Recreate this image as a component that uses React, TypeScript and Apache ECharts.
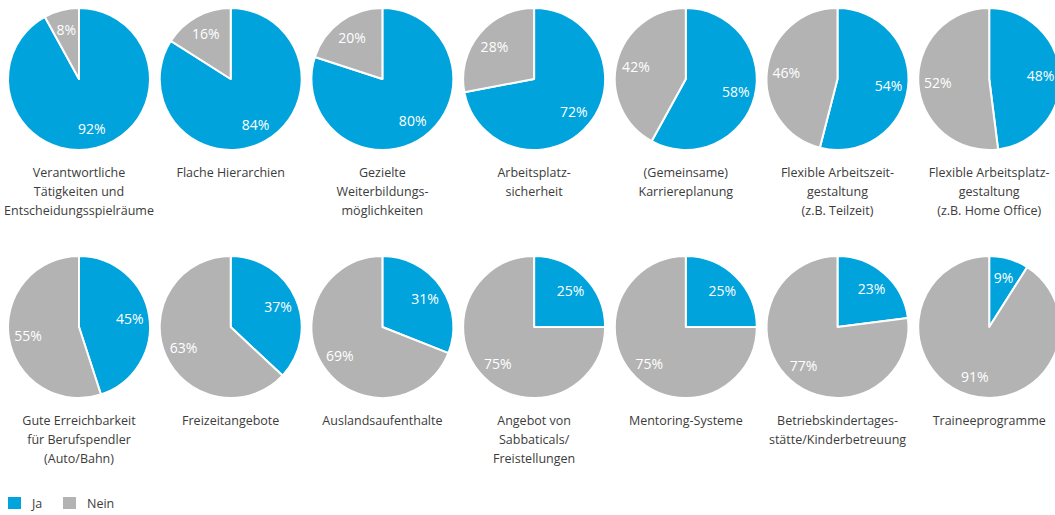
import React, { useEffect, useRef } from "react";
import * as echarts from "echarts";

const categories: string[] = [
  "Verantwortliche\nTätigkeiten und\nEntscheidungsspielräume",
  "Flache Hierarchien",
  "Gezielte\nWeiterbildungs-\nmöglichkeiten",
  "Arbeitsplatz-\nsicherheit",
  "(Gemeinsame)\nKarriereplanung",
  "Flexible Arbeitszeit-\ngestaltung\n(z.B. Teilzeit)",
  "Flexible Arbeitsplatz-\ngestaltung\n(z.B. Home Office)",
  "Gute Erreichbarkeit\nfür Berufspendler\n(Auto/Bahn)",
  "Freizeitangebote",
  "Auslandsaufenthalte",
  "Angebot von\nSabbaticals/\nFreistellungen",
  "Mentoring-Systeme",
  "Betriebskindertages-\nstätte/Kinderbetreuung",
  "Traineeprogramme",
];
const jaValues: number[] = [92, 84, 80, 72, 58, 54, 48, 45, 37, 31, 25, 25, 23, 9];
const neinValues: number[] = [8, 16, 20, 28, 42, 46, 52, 55, 63, 69, 75, 75, 77, 91];
const seriesNames: string[] = ["Ja", "Nein"];

const BLUE = "#00a3dc";
const GRAY = "#b3b3b3";
const FONT = "'Open Sans', sans-serif";

export default function App() {
  const ref = useRef<HTMLDivElement>(null);
  useEffect(() => {
    if (!ref.current) return;
    const chart = echarts.init(ref.current, undefined, { renderer: "svg" });
    const R = 71;
    const centers = categories.map((_, i) => {
      const col = i % 7;
      const row = Math.floor(i / 7);
      return [79 + col * 151.7, 79 + row * 248];
    });
    const series: any[] = [];
    categories.forEach((cat, i) => {
      const data = [
        { name: seriesNames[0], value: jaValues[i], itemStyle: { color: BLUE } },
        { name: seriesNames[1], value: neinValues[i], itemStyle: { color: GRAY } },
      ];
      series.push({
        type: "pie",
        name: cat,
        center: centers[i],
        radius: [0, R],
        startAngle: 90,
        clockwise: true,
        silent: true,
        label: { show: false },
        labelLine: { show: false },
        itemStyle: { borderColor: "#ffffff", borderWidth: 2 },
        emphasis: { disabled: true },
        data,
      });
      series.push({
        type: "pie",
        name: cat + " labels",
        center: centers[i],
        radius: [26, R],
        startAngle: 90,
        clockwise: true,
        silent: true,
        itemStyle: { color: "rgba(0,0,0,0)", borderWidth: 0 },
        label: {
          show: true,
          position: "inside",
          formatter: "{c}%",
          color: "#ffffff",
          fontSize: 14,
          fontFamily: FONT,
        },
        labelLine: { show: false },
        emphasis: { disabled: true },
        data: data.map((d) => ({ name: d.name, value: d.value, itemStyle: { color: "rgba(0,0,0,0)" } })),
      });
    });
    const graphics: any[] = categories.map((cat, i) => ({
      type: "text",
      x: centers[i][0],
      y: centers[i][1] + 84,
      style: {
        text: cat,
        textAlign: "center",
        textVerticalAlign: "top",
        fill: "#3c3c3c",
        font: `12.5px ${FONT}`,
        lineHeight: 19,
      },
    }));
    const legendX = [8, 63];
    seriesNames.forEach((n, k) => {
      graphics.push({
        type: "rect",
        shape: { x: legendX[k], y: 497, width: 13, height: 12 },
        style: { fill: k === 0 ? BLUE : GRAY },
      });
      graphics.push({
        type: "text",
        x: legendX[k] + 24,
        y: 503.5,
        style: {
          text: n,
          textAlign: "left",
          textVerticalAlign: "middle",
          fill: "#3c3c3c",
          font: `12.5px ${FONT}`,
        },
      });
    });
    chart.setOption({
      animation: false,
      graphic: graphics,
      series,
    });
    return () => chart.dispose();
  }, []);
  return (
    <div
      ref={ref}
      style={{ position: "fixed", left: 0, top: 0, width: 1055, height: 515, background: "#fff" }}
    />
  );
}
